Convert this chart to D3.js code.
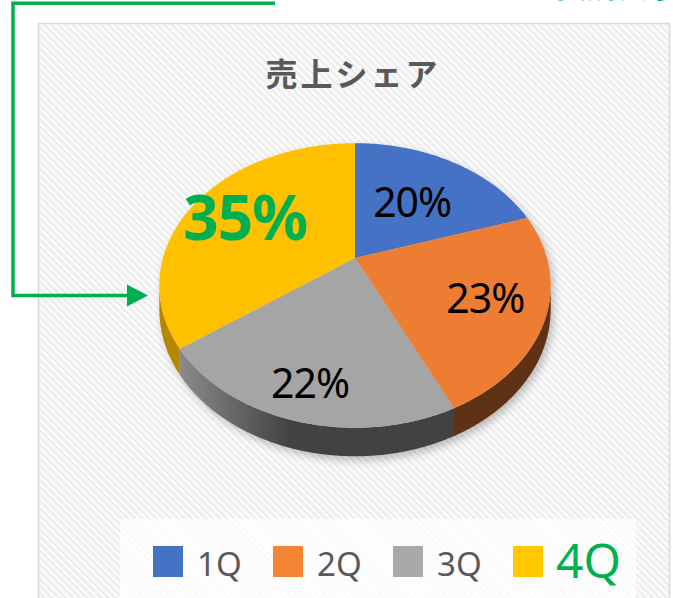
<!DOCTYPE html>
<html><head><meta charset="utf-8">
<script src="https://cdn.jsdelivr.net/npm/d3@7"></script>
<style>html,body{margin:0;padding:0;background:#fff;overflow:hidden}</style>
</head><body>
<svg id="c" width="673" height="598"></svg>
<script>
// ---- data ----
const categories = ["1Q", "2Q", "3Q", "4Q"];
const values = [20, 23, 22, 35];
const valueLabels = ["20%", "23%", "22%", "35%"];
const chartTitle = "売上シェア";
const noteText = "データラベルを強調表示する";
const noteLeft = "書式設定の変更";

// ---- style / layout ----
const topColors = ["#4472c4", "#ed7d31", "#a5a5a5", "#ffc000"];
const sideColors = ["#2a4880", "#5e3216", "url(#graySide)", "#b38700"];
const legendColors = ["#4472c4", "#f58434", "#a9a9a9", "#ffc800"];
const green = "#00b050";
const labelRadius = [0.55, 0.70, 0.80, 0.68];

const svg = d3.select("#c");
const defs = svg.append("defs");

// hatched background
const pat = defs.append("pattern").attr("id", "hatch").attr("patternUnits", "userSpaceOnUse")
  .attr("width", 5).attr("height", 5).attr("patternTransform", "rotate(45)");
pat.append("rect").attr("width", 5).attr("height", 5).attr("fill", "#fbfbfb");
pat.append("rect").attr("width", 5).attr("height", 2.2).attr("fill", "#ececec");

const g1 = defs.append("linearGradient").attr("id", "graySide").attr("gradientUnits", "userSpaceOnUse")
  .attr("x1", 175).attr("x2", 290).attr("y1", 0).attr("y2", 0);
g1.append("stop").attr("offset", 0).attr("stop-color", "#8e8e8e");
g1.append("stop").attr("offset", 1).attr("stop-color", "#424242");

const f = defs.append("filter").attr("id", "shadow").attr("x", "-20%").attr("y", "-20%").attr("width", "140%").attr("height", "140%");
f.append("feGaussianBlur").attr("in", "SourceAlpha").attr("stdDeviation", 4);
f.append("feOffset").attr("dx", 3).attr("dy", 4).attr("result", "b");
f.append("feComponentTransfer").append("feFuncA").attr("type", "linear").attr("slope", 0.25);
const fm = f.append("feMerge");
fm.append("feMergeNode");
fm.append("feMergeNode").attr("in", "SourceGraphic");

// chart frame
svg.append("rect").attr("x", 38.5).attr("y", 23.5).attr("width", 631).attr("height", 600)
  .attr("fill", "url(#hatch)").attr("stroke", "#d9d9d9").attr("stroke-width", 1.5);

// title
svg.append("text").attr("x", 353).attr("y", 86).attr("text-anchor", "middle")
  .attr("font-family", "'Noto Sans CJK JP'").attr("font-weight", "bold").attr("font-size", 32)
  .attr("letter-spacing", 3).attr("fill", "#595959").text(chartTitle);

// ---- 3D pie ----
const cx = 355, cy = 258, A = 192, B = 137, k = 0.193, depth = 23;
function P(a, r = 1) {
  const w = r * Math.cos(a), s = r * Math.sin(a), d = 1 + k * w;
  return [cx + A * s / d, cy - B * w / d, d];
}
const pie = d3.pie().sort(null).value(d => d)(values);
const pieG = svg.append("g").attr("filter", "url(#shadow)");

const vis0 = Math.acos(-k), vis1 = 2 * Math.PI - Math.acos(-k);
function arcPts(a0, a1) {
  const n = Math.max(2, Math.ceil((a1 - a0) / 0.01));
  return d3.range(n + 1).map(i => a0 + (a1 - a0) * i / n);
}
// sides
pie.forEach((p, i) => {
  const a0 = Math.max(p.startAngle, vis0), a1 = Math.min(p.endAngle, vis1);
  if (a1 <= a0) return;
  const pts = arcPts(a0, a1);
  const path = d3.path();
  pts.forEach((a, j) => { const q = P(a); j ? path.lineTo(q[0], q[1]) : path.moveTo(q[0], q[1]); });
  pts.slice().reverse().forEach(a => { const q = P(a); path.lineTo(q[0], q[1] + depth / q[2]); });
  path.closePath();
  pieG.append("path").attr("d", path.toString()).attr("fill", sideColors[i]);
});
// top faces
pie.forEach((p, i) => {
  const path = d3.path();
  path.moveTo(cx, cy);
  arcPts(p.startAngle, p.endAngle).forEach(a => { const q = P(a); path.lineTo(q[0], q[1]); });
  path.closePath();
  pieG.append("path").attr("d", path.toString()).attr("fill", topColors[i]);
});

// labels
pie.forEach((p, i) => {
  const mid = (p.startAngle + p.endAngle) / 2;
  const q = P(mid, labelRadius[i]);
  const big = i === 3;
  svg.append("text").attr("x", q[0]).attr("y", q[1]).attr("dy", "0.36em").attr("text-anchor", "middle")
    .attr("font-family", "'Noto Sans'").attr("font-size", big ? 62 : 41)
    .attr("font-weight", big ? "bold" : "normal")
    .attr("letter-spacing", -1)
    .attr("fill", big ? green : "#000").text(valueLabels[i]);
});

// legend
svg.append("rect").attr("x", 120).attr("y", 519).attr("width", 516).attr("height", 85)
  .attr("fill", "#fff").attr("opacity", 0.75);
const legX = [153, 273, 393, 513];
categories.forEach((c, i) => {
  svg.append("rect").attr("x", legX[i]).attr("y", 546).attr("width", 30).attr("height", 31)
    .attr("fill", legendColors[i]);
  const big = i === 3;
  svg.append("text").attr("x", legX[i] + (big ? 43 : 44)).attr("y", big ? 578 : 576)
    .attr("font-family", "'Noto Sans'").attr("font-size", big ? 48 : 33)
    .attr("fill", big ? green : "#595959").text(c);
});

// annotation (green arrow and notes cut off at the top edge, as in the reference)
svg.append("text").attr("x", 60).attr("y", -4).attr("font-family", "'Noto Sans CJK JP'")
  .attr("font-size", 30).attr("fill", green).text(noteLeft);
svg.append("text").attr("x", 338).attr("y", -3).attr("font-family", "'Noto Sans CJK JP'")
  .attr("font-weight", "bold").attr("font-size", 31).attr("fill", green).text(noteText);
svg.append("path").attr("d", "M275,3.3 H13 V295.5 H130").attr("fill", "none")
  .attr("stroke", green).attr("stroke-width", 3.5);
svg.append("path").attr("d", "M127,284.5 L148,295.5 L127,306.5 Z").attr("fill", green);
</script>
</body></html>
